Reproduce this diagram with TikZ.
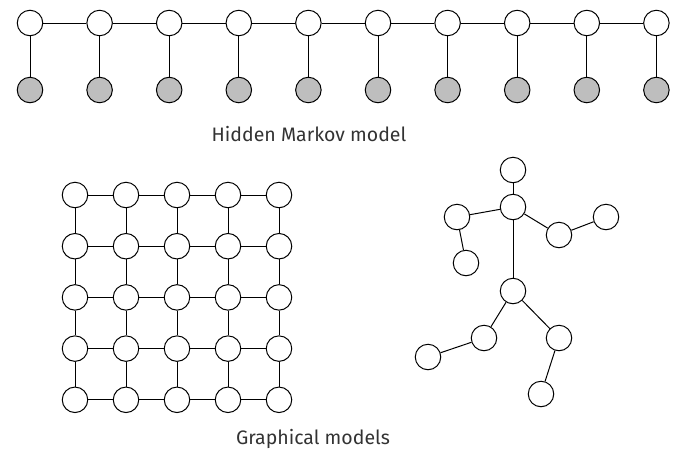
\documentclass[tikz,border=0pt]{standalone}
\usepackage{fontspec}
\setmainfont{Fira Sans}
\usetikzlibrary{positioning}
\definecolor{obsgray}{HTML}{BEBEBE}
\definecolor{textgray}{HTML}{333333}

\begin{document}
\begin{tikzpicture}[x=1pt, y=-1pt, line width=1pt,
  var/.style={circle, draw, fill=white, minimum size=25.5pt, inner sep=0pt},
  obs/.style={var, fill=obsgray},
  caption/.style={text=textgray, font=\fontsize{19.5}{22}\selectfont}]
\path[use as bounding box] (0,0) rectangle (680,451);
% hidden Markov model
\foreach \i in {0,...,9} {
  \node[var] (h\i) at (30+69.6*\i,23) {};
  \node[obs] (o\i) at (30+69.6*\i,90) {};
  \draw (h\i) -- (o\i);
}
\foreach \i [count=\j from 1] in {0,...,8}
  \draw (h\i) -- (h\j);
\node[caption] (hmmlabel) at (309,134) {Hidden Markov model};
% grid
\foreach \r in {0,...,4}
  \foreach \c in {0,...,4}
    \node[var] (g\r\c) at (75+51*\c,195+51.2*\r) {};
\foreach \r in {0,...,4}
  \foreach \c [count=\d from 1] in {0,...,3} {
    \draw (g\r\c) -- (g\r\d);
    \draw (g\c\r) -- (g\d\r);
  }
% tree
\node[var] (head) at (513,170) {};
\node[var] (neck) at (513,207) {};
\node[var] (lsh) at (457,217) {};
\node[var] (lhand) at (466,263) {};
\node[var] (relb) at (559,235) {};
\node[var] (rhand) at (606,217) {};
\node[var] (hip) at (513,291) {};
\node[var] (lknee) at (484,338) {};
\node[var] (lfoot) at (428,357) {};
\node[var] (rknee) at (559,338) {};
\node[var] (rfoot) at (541,394) {};
\draw (head) -- (neck);
\draw (neck) -- (lsh) -- (lhand);
\draw (neck) -- (relb) -- (rhand);
\draw (neck) -- (hip);
\draw (hip) -- (lknee) -- (lfoot);
\draw (hip) -- (rknee) -- (rfoot);
\node[caption] (gmlabel) at (313,439) {Graphical models};
\end{tikzpicture}
\end{document}
